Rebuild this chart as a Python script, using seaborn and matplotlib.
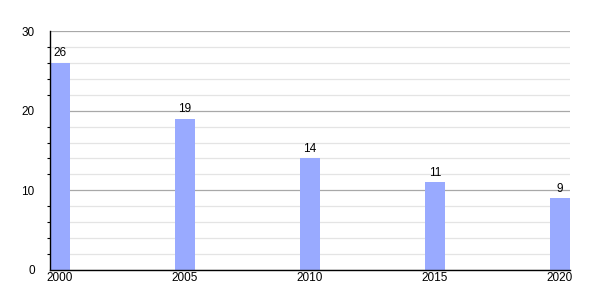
import matplotlib
matplotlib.use("Agg")
import matplotlib.pyplot as plt
from matplotlib.ticker import MultipleLocator
import seaborn as sns
import pandas as pd

years = [2000, 2005, 2010, 2015, 2020]
values = [26, 19, 14, 11, 9]
xtick_labels = ["2000", "2005", "2010", "2015", "2020"]

sns.set_style("white")
plt.rcParams['font.family'] = ['Liberation Sans', 'DejaVu Sans']
plt.rcParams['text.color'] = 'black'
plt.rcParams['xtick.color'] = 'black'
plt.rcParams['ytick.color'] = 'black'

df = pd.DataFrame({"year": years, "value": values})

fig = plt.figure(figsize=(6, 3), dpi=100)
ax = fig.add_axes([50/600, 30/300, 520/600, 239/300])

sns.barplot(data=df, x="year", y="value", native_scale=True, width=0.16,
            color="#99aaff", saturation=1, ax=ax, zorder=3, edgecolor="none")

ax.set_xlim(1999.6, 2020.4)
ax.set_ylim(0, 30)
ax.set_xticks(years)
ax.set_xticklabels(xtick_labels)
ax.yaxis.set_major_locator(MultipleLocator(10))
ax.yaxis.set_minor_locator(MultipleLocator(2))
ax.grid(True, axis="y", which="major", color="#a8a8a8", linewidth=0.9, zorder=0)
ax.grid(True, axis="y", which="minor", color="#e4e4e4", linewidth=0.9, zorder=0)
ax.set_axisbelow(True)

for s in ["top", "right"]:
    ax.spines[s].set_visible(False)
for s in ["left", "bottom"]:
    ax.spines[s].set_color("black")
    ax.spines[s].set_linewidth(1.0)
    ax.spines[s].set_zorder(5)

ax.tick_params(axis="y", which="major", length=5, width=0.8, color="black", labelsize=8.5, pad=6)
ax.tick_params(axis="y", which="minor", length=2.5, width=0.8, color="black", left=True)
ax.tick_params(axis="x", length=0, labelsize=8.5, pad=1.5)
ax.set_xlabel("")
ax.set_ylabel("")

for c in ax.containers:
    ax.bar_label(c, labels=[str(v) for v in values], padding=2.5, fontsize=8.5)

fig.savefig("out.png", dpi=100)
